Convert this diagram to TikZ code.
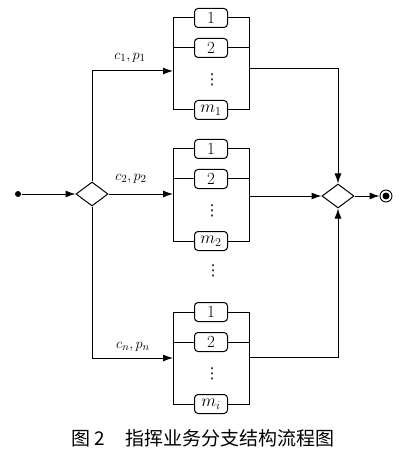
\documentclass[tikz,border=0pt]{standalone}
\usepackage{fontspec}
\newfontfamily\cjk{Noto Sans CJK SC}
\newfontfamily\dv{DejaVu Sans}
\usetikzlibrary{shapes.geometric,arrows.meta}
\begin{document}
\begin{tikzpicture}[x=1pt,y=-1pt,line width=1pt,
  task/.style={draw, rounded corners=3.5pt, minimum width=33pt, minimum height=19pt, inner sep=0pt, font=\fontsize{17}{17}\selectfont},
  gate/.style={draw, diamond, minimum width=32pt, minimum height=24pt, inner sep=0pt},
  arr/.style={-{Latex[length=10pt,width=7pt]}},
  lbl/.style={font=\fontsize{15}{15}\selectfont, inner sep=0pt},
  vd/.style={font=\dv\fontsize{15}{15}\selectfont, inner sep=0pt}]
\useasboundingbox (0,0) rectangle (409,462);
\foreach \b/\t/\s in {1/18/1, 2/149/2, n/312/i} {
  \pgfmathsetmacro\ya{\t+30}
  \pgfmathsetmacro\yd{\t+62}
  \pgfmathsetmacro\ym{\t+92}
  \node[task] (ra\b) at (211,\t) {1};
  \node[task] (rb\b) at (211,\ya) {2};
  \node[vd] (rd\b) at (212,\yd) {⋮};
  \node[task] (rm\b) at (211,\ym) {$m_{\s}$};
  \coordinate (tl\b) at (173,\t);
  \coordinate (bl\b) at (173,\ym);
  \coordinate (tr\b) at (249,\t);
  \coordinate (br\b) at (249,\ym);
  \draw (ra\b.west) -- (tl\b) -- (bl\b) -- (rm\b.west);
  \draw (ra\b.east) -- (tr\b) -- (br\b) -- (rm\b.east);
  \draw (rb\b.west) -- (rb\b.west -| tl\b);
  \draw (rb\b.east) -- (rb\b.east -| tr\b);
}
\node[vd] (mid) at (213,271) {⋮};
\node[circle, fill, inner sep=0pt, minimum size=6pt] (s) at (18,194) {};
\node[gate] (g1) at (92,194) {};
\node[gate] (g2) at (338,196) {};
\node[circle, draw, inner sep=0pt, minimum size=12pt, line width=0.9pt] (e) at (386,196) {};
\node[circle, fill, inner sep=0pt, minimum size=7pt] (e2) at (e.center) {};
\coordinate (in1) at (173,71);
\coordinate (in2) at (173,194);
\coordinate (inn) at (173,358);
\coordinate (out1) at (249,69);
\coordinate (out2) at (249,196);
\coordinate (outn) at (249,357);
\draw[arr] (s) -- (g1);
\draw[arr] (g1.north) |- (in1);
\draw[arr] (g1) -- (in2);
\draw[arr] (g1.south) |- (inn);
\draw[arr] (out1) -| (g2.north);
\draw[arr] (out2) -- (g2.west);
\draw[arr] (outn) -| (g2.south);
\draw[arr] (g2) -- (e);
\node[lbl] (l1) at (130,58) {$c_1, p_1$};
\node[lbl] (l2) at (131,179) {$c_2, p_2$};
\node[lbl] (ln) at (133,347) {$c_n, p_n$};
\node[inner sep=0pt, font=\fontsize{19}{19}\selectfont] (cap) at (203,438) {\cjk 图~2\hspace{1.1em}指挥业务分支结构流程图};
\end{tikzpicture}
\end{document}
